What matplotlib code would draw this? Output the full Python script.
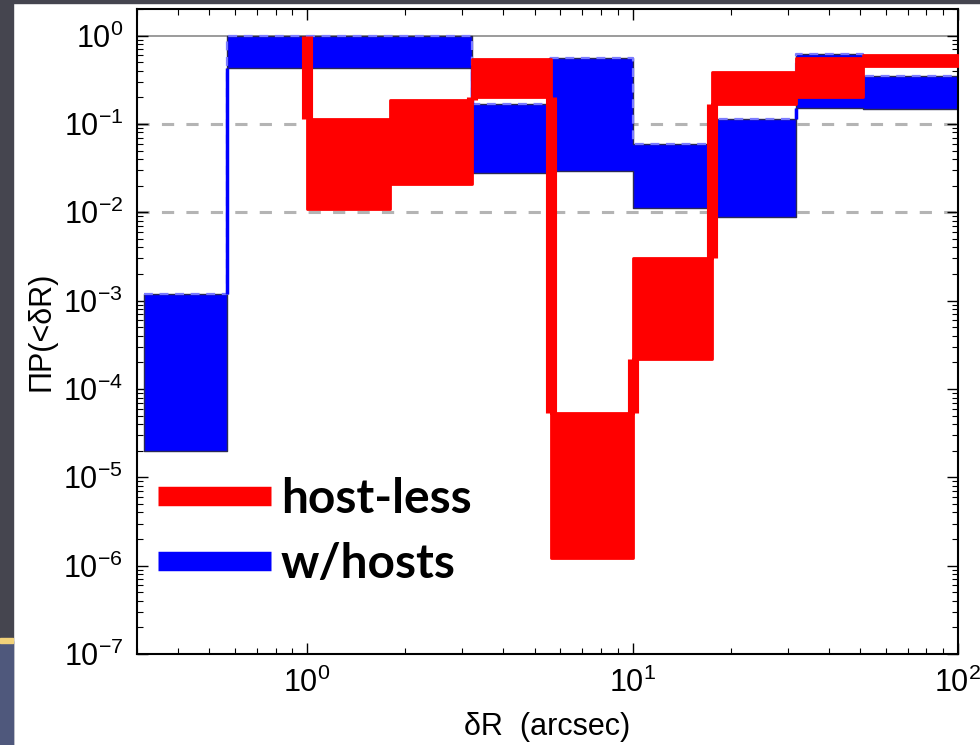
import matplotlib
matplotlib.use("Agg")
import matplotlib.pyplot as plt
from matplotlib.lines import Line2D
from matplotlib.patches import Rectangle
import numpy as np

plt.rcParams['font.family'] = ['Liberation Sans', 'DejaVu Sans']
plt.rcParams['mathtext.fontset'] = 'custom'
plt.rcParams['mathtext.rm'] = 'Liberation Sans'
plt.rcParams['mathtext.it'] = 'Liberation Sans:italic'

# ---- data (bin edges in arcsec, lower/upper probability per bin) ----
blue_edges = [0.316, 0.567, 3.2, 5.55, 10.05, 17.4, 31.7, 51.0, 100.0]
blue_lo = [2.0e-5, 0.43, 0.028, 0.0295, 0.0112, 0.0089, 0.153, 0.148]
blue_hi = [1.2e-3, 1.0, 0.169, 0.56, 0.060, 0.114, 0.62, 0.35]

red_edges = [1.0, 1.8, 3.2, 5.6, 10.0, 17.5, 31.7, 51.0, 100.0]
red_lo = [0.011, 0.021, 0.20, 1.23e-6, 2.2e-4, 0.17, 0.20, 0.45]
red_hi = [0.114, 0.187, 0.54, 5.3e-5, 3.0e-3, 0.39, 0.556, 0.60]
red_start = 1.0

labels = ["host-less", "w/hosts"]
xlim = (0.3, 100)
ylim = (1e-7, 2.0)
ref_solid = [1.0]
ref_dashed = [0.1, 0.01]

RED = '#ff0000'
BLUE = '#0000ff'

fig = plt.figure(figsize=(9.8, 7.45), dpi=100)
fig.patch.set_facecolor('white')
# slide background strips
fig.patches.append(Rectangle((0, 0), 13/980, 1, transform=fig.transFigure, color='#45454f', zorder=-10))
fig.patches.append(Rectangle((0, 0), 13/980, 104/745, transform=fig.transFigure, color='#4f587c', zorder=-9))
fig.patches.append(Rectangle((0, 102/745), 13/980, 5/745, transform=fig.transFigure, color='#f2d27a', zorder=-8))
fig.patches.append(Rectangle((0, 1-3/745), 1, 3/745, transform=fig.transFigure, color='#45454f', zorder=-10))

ax = fig.add_axes([137/980, 1-654/745, (958-137)/980, (654-9)/745])
ax.set_xscale('log')
ax.set_yscale('log')
ax.set_xlim(*xlim)
ax.set_ylim(*ylim)

for y in ref_solid:
    ax.axhline(y, color='#8a8a8a', lw=1.2, zorder=1)
for y in ref_dashed:
    ax.axhline(y, color='#b4b4b4', lw=2.2, ls=(0, (4, 4)), zorder=1)

def steps(edges, vals):
    return np.asarray(edges), np.append(vals, vals[-1])

# blue series
bx, blo = steps(blue_edges, blue_lo)
_, bhi = steps(blue_edges, blue_hi)
ax.fill_between(bx, blo, bhi, step='post', facecolor=BLUE, edgecolor='#2a2a55', lw=1.0, zorder=2)
ax.step(bx, bhi, where='post', color='#7a7aff', lw=1.6, ls=(0, (4, 3)), zorder=3)
for i in range(1, len(blue_lo)):
    plo, phi, nlo, nhi = blue_lo[i-1], blue_hi[i-1], blue_lo[i], blue_hi[i]
    if nlo > phi:
        ax.vlines(blue_edges[i], phi, nlo, color=BLUE, lw=2.5, zorder=3)
    elif nhi < plo:
        ax.vlines(blue_edges[i], nhi, plo, color=BLUE, lw=2.5, zorder=3)

# red series
rx, rlo = steps(red_edges, red_lo)
_, rhi = steps(red_edges, red_hi)
ax.fill_between(rx, rlo, rhi, step='post', facecolor=RED, edgecolor=RED, lw=2.0, zorder=4)
ax.vlines(red_edges[0], red_hi[0], red_start, color=RED, lw=8, zorder=5)
for i in range(1, len(red_lo)):
    plo, phi, nlo, nhi = red_lo[i-1], red_hi[i-1], red_lo[i], red_hi[i]
    if nlo > phi:
        ax.vlines(red_edges[i], phi, nlo, color=RED, lw=8, zorder=5)
    elif nhi < plo:
        ax.vlines(red_edges[i], nhi, plo, color=RED, lw=8, zorder=5)

ax.tick_params(which='both', direction='in', top=True, right=True, labelsize=22, pad=10)
ax.tick_params(which='major', length=8, width=1)
ax.tick_params(which='minor', length=4, width=0.8)
for s in ax.spines.values():
    s.set_linewidth(1.5)

ax.set_xlabel('δR  (arcsec)', fontsize=22, labelpad=9)
ax.set_ylabel('ΠP(<δR)', fontsize=22, labelpad=5)

handles = [Line2D([], [], color=RED, lw=14, solid_capstyle='butt'),
           Line2D([], [], color=BLUE, lw=14, solid_capstyle='butt')]
leg = ax.legend(handles, labels, loc='upper left', bbox_to_anchor=(158/980, 1-477/745),
                bbox_transform=fig.transFigure, frameon=False,
                prop={'family': 'Lato', 'weight': 'bold', 'size': 34.5},
                handlelength=2.36, handletextpad=0.2, labelspacing=0.44,
                borderpad=0, borderaxespad=0)

fig.savefig('out.png', dpi=100)
